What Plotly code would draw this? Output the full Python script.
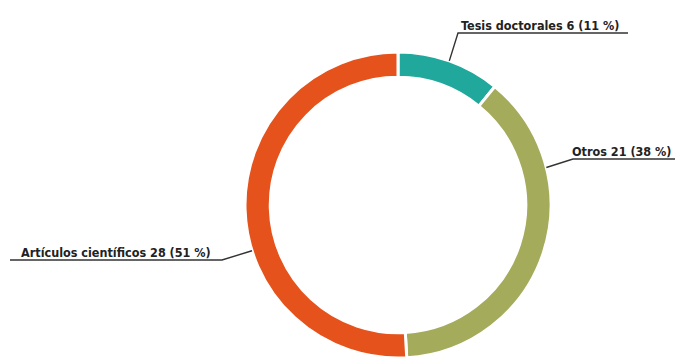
import math
import plotly.graph_objects as go

labels = ["Tesis doctorales", "Otros", "Artículos científicos"]
values = [6, 21, 28]
percents = [11, 38, 51]
colors = ["#1fa89b", "#a4ab5a", "#e5521c"]
# angle (deg, clockwise from top) where each leader line touches the ring
leader_angles = [19.6, 75.8, 252.6]

OFF = 8  # page body margin offset
W, H = 683 - 2 * OFF, 362 - OFF
cx, cy, R = 398 - OFF, 205 - OFF, 153

fig = go.Figure(go.Pie(
    labels=labels, values=values, sort=False, direction="clockwise", rotation=0,
    hole=0.835, marker=dict(colors=colors, line=dict(color="white", width=3)),
    textinfo="none", hoverinfo="label+value+percent",
    domain=dict(x=[(cx - R) / W, (cx + R) / W],
                y=[max(0, 1 - (cy + R) / H), 1 - (cy - R) / H]),
))

def px(x, y):
    return (x - OFF) / W, 1 - (y - OFF) / H

# label layout in page pixels: (elbow x, underline y, underline end x, text x, text anchor)
label_layout = [
    (458, 33, 628, 460, "left"),
    (573, 159, 683, 673, "right"),
    (222, 260, 10, 20, "left"),
]

font = dict(family="DejaVu Sans Condensed, Liberation Sans Narrow, sans-serif",
            size=12.5, color="#222222", weight="bold")
for i, (lab, v, p) in enumerate(zip(labels, values, percents)):
    a = math.radians(leader_angles[i])
    ax, ay = cx + OFF + R * math.sin(a), cy + OFF - R * math.cos(a)
    ex, ey, endx, tx, anchor = label_layout[i]
    x0, y0 = px(ax, ay)
    x1, y1 = px(ex, ey)
    x2, y2 = px(endx, ey)
    fig.add_shape(type="path", xref="paper", yref="paper",
                  path=f"M {x0} {y0} L {x1} {y1} L {x2} {y2}",
                  line=dict(color="#333333", width=1.4))
    fig.add_annotation(x=px(tx, 0)[0], y=y1, xref="paper", yref="paper",
                       xanchor=anchor, yanchor="bottom", showarrow=False,
                       borderpad=0,
                       text=f"{lab} {v} ({p} %)", font=font, yshift=-1)

fig.update_layout(width=W, height=H, margin=dict(l=0, r=0, t=0, b=0),
                  paper_bgcolor="white", plot_bgcolor="white", showlegend=False)
fig.write_html("out.html")
